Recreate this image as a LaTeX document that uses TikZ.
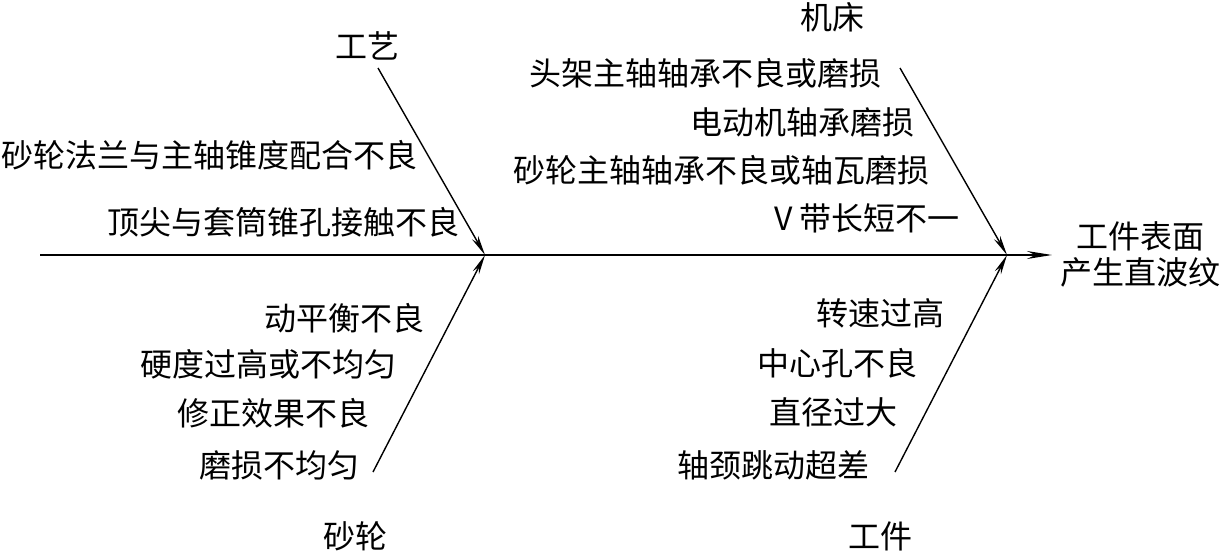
\documentclass[tikz,border=0pt]{standalone}
\usepackage{fontspec}
\newfontfamily\cjk{Noto Sans CJK SC}
\usetikzlibrary{arrows.meta}
\begin{document}
\begin{tikzpicture}[x=0.5pt,y=-0.5pt,
  lbl/.style={inner sep=0pt,anchor=east,font=\cjk\fontsize{16pt}{18pt}\selectfont},
  cat/.style={inner sep=0pt,font=\cjk\fontsize{16pt}{18pt}\selectfont},
  spine/.style={line width=0.75pt,-{Stealth[length=12.5pt,width=4pt]}},
  bone/.style={line width=0.7pt,-{Stealth[length=10pt,width=3.5pt]}}]
\useasboundingbox (0,0) rectangle (1222,551);
% junctions
\coordinate (s0) at (40,255);
\coordinate (j1) at (485,255);
\coordinate (j2) at (1007,255);
\coordinate (tip) at (1052,255);
\coordinate (b1) at (378,68);
\coordinate (b2) at (900,68);
\coordinate (b3) at (373,472);
\coordinate (b4) at (895,472);
\draw[line width=0.75pt] (s0) -- (j2);
\draw[spine] (j2) -- (tip);
\draw[bone] (b1) -- (j1);
\draw[bone] (b3) -- (j1);
\draw[bone] (b2) -- (j2);
\draw[bone] (b4) -- (j2);
% categories
\node[cat] (c1) at (367,46) {工艺};
\node[cat] (c2) at (832,17) {机床};
\node[cat] (c3) at (355,536) {砂轮};
\node[cat] (c4) at (880,536) {工件};
\node[cat,align=center] (eff) at (1140,254) {工件表面\\产生直波纹};
% causes
\node[lbl] (t1) at (418,155) {砂轮法兰与主轴锥度配合不良};
\node[lbl] (t2) at (460,222) {顶尖与套筒锥孔接触不良};
\node[lbl] (m1) at (882,73) {头架主轴轴承不良或磨损};
\node[lbl] (m2) at (915,122) {电动机轴承磨损};
\node[lbl] (m3) at (930,170) {砂轮主轴轴承不良或轴瓦磨损};
\node[lbl] (m4) at (960,218) {V 带长短不一};
\node[lbl] (s1) at (425,318) {动平衡不良};
\node[lbl] (s2) at (397,364) {硬度过高或不均匀};
\node[lbl] (s3) at (370,413) {修正效果不良};
\node[lbl] (s4) at (360,465) {磨损不均匀};
\node[lbl] (w1) at (945,313) {转速过高};
\node[lbl] (w2) at (918,363) {中心孔不良};
\node[lbl] (w3) at (898,412) {直径过大};
\node[lbl] (w4) at (870,465) {轴颈跳动超差};
\end{tikzpicture}
\end{document}
